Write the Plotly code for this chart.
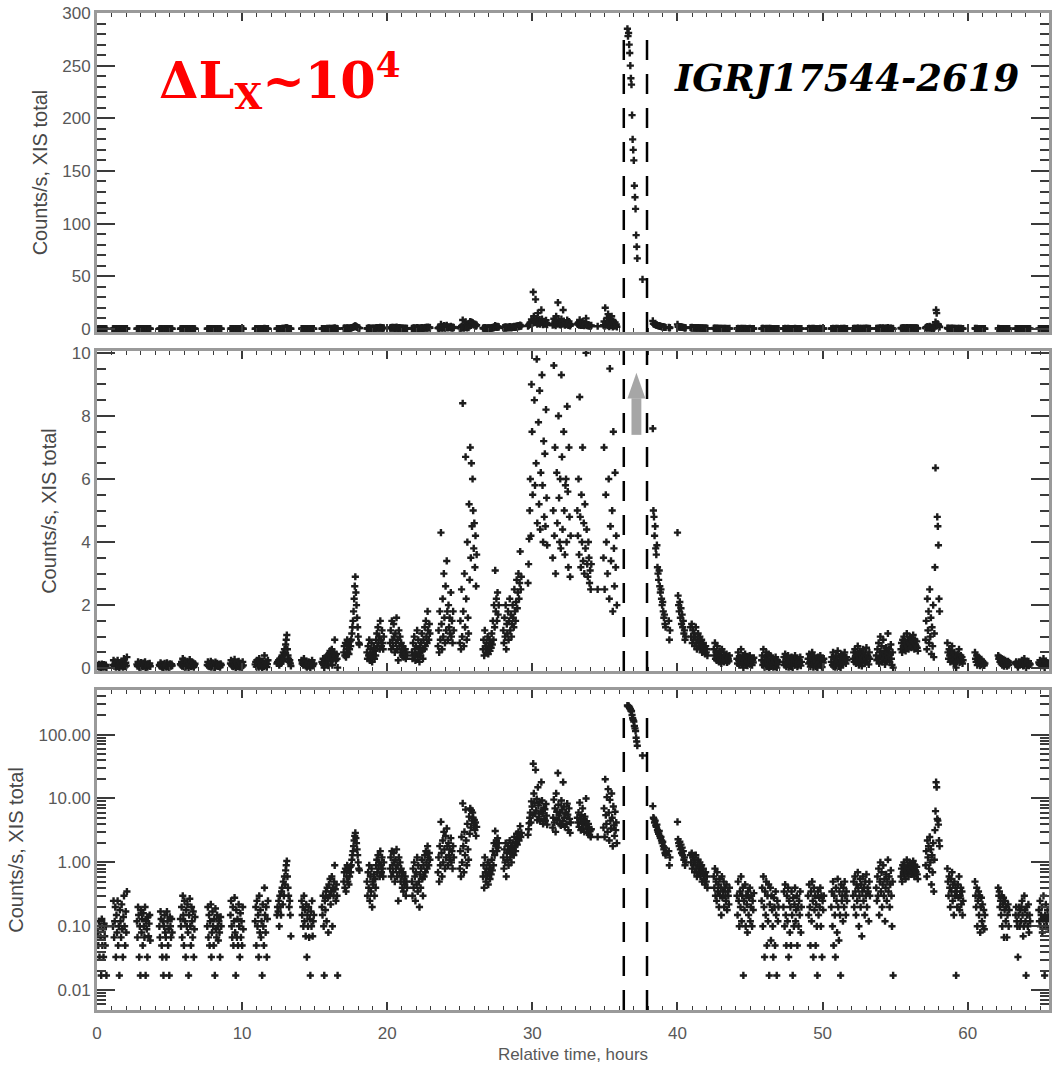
import plotly.graph_objects as go
from plotly.subplots import make_subplots

# ---------------- data ----------------
BIN_H = 0.04  # light-curve bin width, hours

SEG_START = [0.05, 1.1, 2.75, 4.3, 5.75, 7.6, 9.2, 10.9, 12.4, 14.1,
             15.5, 17.0, 18.6, 20.2, 21.7, 23.5, 25.0, 26.6, 28.0, 29.7,
             31.4, 33.1, 34.5, 36.55, 38.3, 39.4, 40.9, 42.5, 44.1, 45.8,
             47.3, 49.0, 50.6, 52.1, 53.7, 55.4, 57.1, 58.6, 60.5, 62.1,
             63.3, 64.9]

SEG_RATES = [
    [0.08, 0.05, 0.12, 0.033, 0.1, 0.067, 0.017, 0.13, 0.05, 0.09, 0.033, 0.11, 0.07, 0.05, 0.1, 0.017],
    [0.1, 0.25, 0.067, 0.12, 0.2, 0.033, 0.15, 0.08, 0.25, 0.05, 0.1, 0.017, 0.18, 0.12, 0.067, 0.22, 0.09, 0.033, 0.14, 0.3, 0.1, 0.05, 0.17, 0.08, 0.35],
    [0.12, 0.067, 0.2, 0.15, 0.033, 0.1, 0.017, 0.18, 0.08, 0.13, 0.05, 0.16, 0.1, 0.067, 0.2, 0.017, 0.12, 0.09, 0.033, 0.14, 0.07, 0.11, 0.15, 0.06],
    [0.1, 0.067, 0.17, 0.13, 0.05, 0.033, 0.12, 0.017, 0.1, 0.15, 0.08, 0.067, 0.033, 0.17, 0.12, 0.05, 0.09, 0.017, 0.14, 0.1, 0.067, 0.13, 0.08],
    [0.13, 0.1, 0.2, 0.067, 0.3, 0.15, 0.05, 0.25, 0.12, 0.033, 0.18, 0.1, 0.22, 0.08, 0.017, 0.15, 0.27, 0.1, 0.05, 0.2, 0.12, 0.067, 0.17, 0.033, 0.09, 0.14],
    [0.1, 0.2, 0.067, 0.15, 0.05, 0.12, 0.22, 0.033, 0.08, 0.17, 0.1, 0.05, 0.13, 0.017, 0.19, 0.09, 0.067, 0.15, 0.1, 0.06, 0.12, 0.08, 0.033, 0.14, 0.1],
    [0.15, 0.25, 0.1, 0.067, 0.2, 0.05, 0.12, 0.28, 0.08, 0.017, 0.18, 0.067, 0.13, 0.05, 0.22, 0.1, 0.033, 0.16, 0.067, 0.12, 0.05, 0.2, 0.09],
    [0.12, 0.2, 0.05, 0.25, 0.1, 0.15, 0.033, 0.3, 0.08, 0.18, 0.067, 0.12, 0.017, 0.22, 0.1, 0.05, 0.4, 0.15, 0.08, 0.2, 0.033, 0.13, 0.25],
    [0.15, 0.2, 0.17, 0.25, 0.1, 0.3, 0.2, 0.15, 0.35, 0.4, 0.22, 0.5, 0.3, 0.6, 0.45, 0.75, 0.9, 1.05, 0.6, 0.4, 0.3, 0.2, 0.25, 0.15, 0.07],
    [0.25, 0.15, 0.2, 0.1, 0.3, 0.12, 0.18, 0.07, 0.22, 0.033, 0.15, 0.1, 0.2, 0.067, 0.13, 0.017, 0.17, 0.1, 0.25, 0.07, 0.12, 0.15],
    [0.2, 0.15, 0.3, 0.1, 0.017, 0.25, 0.18, 0.35, 0.12, 0.4, 0.28, 0.08, 0.45, 0.3, 0.55, 0.22, 0.35, 0.6, 0.1, 0.4, 0.3, 0.5, 0.9, 0.38, 0.25, 0.45, 0.3, 0.017],
    [0.5, 0.7, 0.4, 0.8, 0.35, 0.6, 0.9, 0.5, 0.75, 0.45, 0.6, 0.85, 0.7, 0.9, 1.1, 1.3, 1.5, 1.8, 2.2, 2.6, 2.9, 2.4, 2.0, 1.6, 1.3, 1.0, 0.8, 0.75],
    [0.5, 0.3, 0.7, 0.4, 0.9, 0.25, 0.6, 0.35, 0.8, 0.2, 0.5, 0.45, 0.65, 0.3, 0.55, 0.4, 0.9, 1.1, 0.7, 1.3, 0.8, 1.0, 0.6, 1.5, 0.9, 0.7, 1.2, 0.8, 0.6, 1.0],
    [0.8, 1.2, 0.6, 1.5, 0.9, 0.7, 1.4, 1.0, 0.5, 1.1, 0.8, 1.6, 0.6, 0.9, 0.25, 1.2, 0.7, 1.0, 0.5, 0.8, 0.6, 0.4, 0.7, 0.35, 0.5, 0.45, 0.6, 0.3, 0.5, 0.4],
    [0.5, 0.3, 0.8, 0.4, 1.0, 0.6, 0.25, 0.7, 0.45, 1.2, 0.35, 0.9, 0.5, 0.2, 0.65, 0.4, 0.8, 1.1, 0.55, 0.3, 0.9, 0.6, 1.3, 0.7, 1.5, 1.0, 0.8, 1.8, 1.2, 0.9, 1.4, 1.1],
    [0.7, 1.2, 0.5, 1.8, 0.9, 4.3, 1.4, 0.6, 2.2, 1.0, 3.0, 1.6, 0.8, 2.6, 1.2, 3.4, 1.8, 0.9, 2.0, 1.3, 1.6, 1.1, 2.4, 1.0, 1.5, 0.8, 1.8, 1.2],
    [0.8, 1.5, 0.6, 2.5, 1.0, 8.4, 1.8, 0.7, 3.0, 1.3, 6.7, 2.2, 0.9, 4.0, 1.6, 1.1, 5.2, 2.8, 7.0, 3.5, 6.5, 4.5, 6.0, 5.0, 3.8, 4.6, 3.2, 4.2, 2.6, 3.6],
    [0.6, 0.9, 0.4, 1.2, 0.7, 0.5, 0.8, 0.6, 1.0, 0.45, 0.7, 0.9, 0.55, 0.8, 0.65, 1.1, 0.75, 1.5, 0.9, 2.0, 1.3, 3.1, 1.8, 2.2, 1.5, 2.4, 1.7, 2.0],
    [1.2, 0.8, 1.6, 1.0, 2.0, 0.6, 1.4, 1.1, 1.8, 0.9, 1.5, 2.2, 1.2, 1.7, 1.0, 1.4, 2.0, 1.6, 1.3, 2.5, 1.8, 1.5, 2.1, 2.8, 1.9, 2.4, 3.0, 2.2, 2.7, 3.7, 2.5, 2.9],
    [2.7, 3.3, 4.1, 5.0, 6.0, 4.2, 9.0, 7.5, 5.5, 35, 12, 8.5, 5.8, 28, 6.5, 9.8, 4.6, 15, 7.8, 5.2, 8.8, 4.4, 6.2, 18, 9.3, 5.8, 4.0, 7.2, 4.8, 6.8, 4.5, 8.2, 5.4, 3.9],
    [3.5, 5.0, 9.6, 4.2, 7.0, 3.0, 12, 6.2, 4.6, 25, 8.0, 5.4, 4.0, 6.0, 3.8, 9.3, 6.7, 4.4, 18, 7.5, 5.0, 3.6, 5.8, 6.0, 4.0, 8.3, 5.6, 3.2, 7.0, 4.8, 2.9, 4.2],
    [5.0, 4.2, 6.0, 3.6, 8.6, 4.8, 3.2, 5.5, 4.0, 7.0, 3.4, 4.6, 3.0, 5.2, 3.8, 10.0, 4.4, 3.3, 2.9, 4.0, 3.5, 2.7, 3.1, 2.5, 3.3],
    [2.5, None, None, None, None, None, None, None, None, None, 3.5, 7.0, 2.5, 20, 5.5, 4.0, 10.5, 3.0, 14, 6.0, 2.2, 9.5, 4.5, 3.4, 12, 5.0, 1.8, 7.5, 3.8, 2.6, 6.2, 3.2, 4.2, 2.0],
    [285, 278, 281, 270, 262, 250, 238, 232, 203, 180, 170, 160, 136, 125, 114, 89, 78, 67, None, None, None, None, None, None, None, None, 47],
    [7.6, 5.0, 4.8, 4.2, 4.5, 3.8, 3.6, 3.9, 3.2, 3.0, 2.8, 3.1, 2.6, 2.4, 2.5, 2.2, 2.0, 2.1, 1.8, 1.6, 1.7, 1.4, 1.3],
    [1.5, 0.9, 1.2, None, None, None, None, None, None, None, None, None, None, None, None, 4.3, 2.3, 2.0, 1.8, 2.1, 1.6, 1.9, 1.4, 1.7, 1.3, 1.5, 1.1, 1.2, 0.9, 1.0],
    [1.3, 1.0, 1.4, 0.8, 1.2, 0.9, 1.1, 0.7, 1.0, 1.3, 0.8, 0.6, 0.9, 1.1, 0.7, 0.85, 1.0, 0.6, 0.75, 0.9, 0.5, 0.7, 0.8, 0.55, 0.65, 0.45, 0.7, 0.5, 0.6, 0.4],
    [0.6, 0.4, 0.8, 0.3, 0.5, 0.25, 0.7, 0.35, 0.45, 0.2, 0.55, 0.3, 0.4, 0.15, 0.6, 0.28, 0.35, 0.5, 0.2, 0.4, 0.3, 0.25, 0.45, 0.18, 0.35, 0.3, 0.22, 0.4],
    [0.3, 0.15, 0.5, 0.25, 0.1, 0.35, 0.2, 0.6, 0.12, 0.3, 0.4, 0.017, 0.25, 0.18, 0.45, 0.1, 0.3, 0.22, 0.08, 0.35, 0.15, 0.28, 0.4, 0.12, 0.2, 0.3, 0.1, 0.25, 0.18, 0.33],
    [0.25, 0.4, 0.1, 0.6, 0.2, 0.033, 0.35, 0.15, 0.5, 0.05, 0.3, 0.12, 0.45, 0.017, 0.22, 0.4, 0.06, 0.3, 0.18, 0.1, 0.033, 0.28, 0.2, 0.05, 0.35, 0.15, 0.017, 0.25, 0.12, 0.2],
    [0.2, 0.35, 0.1, 0.45, 0.15, 0.05, 0.3, 0.12, 0.4, 0.033, 0.25, 0.08, 0.2, 0.05, 0.35, 0.15, 0.017, 0.28, 0.1, 0.22, 0.4, 0.12, 0.18, 0.3, 0.05, 0.2, 0.1, 0.25, 0.15, 0.35, 0.08, 0.2],
    [0.3, 0.15, 0.45, 0.2, 0.05, 0.35, 0.12, 0.5, 0.25, 0.033, 0.4, 0.18, 0.3, 0.05, 0.22, 0.1, 0.017, 0.35, 0.15, 0.28, 0.2, 0.4, 0.1, 0.3, 0.033, 0.25, 0.18, 0.3],
    [0.2, 0.35, 0.1, 0.5, 0.05, 0.3, 0.15, 0.033, 0.4, 0.25, 0.08, 0.55, 0.2, 0.06, 0.35, 0.15, 0.017, 0.45, 0.25, 0.3, 0.12, 0.4, 0.2, 0.5, 0.3, 0.15, 0.35, 0.25],
    [0.3, 0.5, 0.2, 0.6, 0.35, 0.15, 0.45, 0.25, 0.7, 0.4, 0.1, 0.3, 0.55, 0.2, 0.45, 0.07, 0.35, 0.6, 0.25, 0.4, 0.15, 0.5, 0.3, 0.65, 0.2, 0.4, 0.35, 0.12, 0.5, 0.3],
    [0.4, 0.25, 0.6, 0.3, 0.8, 0.15, 0.5, 1.0, 0.35, 0.7, 0.2, 0.45, 0.9, 0.3, 0.55, 0.12, 0.4, 0.65, 0.25, 0.5, 1.1, 0.35, 0.6, 0.2, 0.45, 0.75, 0.3, 0.1, 0.5, 0.017],
    [0.6, 0.8, 0.5, 0.9, 0.7, 1.0, 0.65, 0.85, 0.55, 0.75, 1.1, 0.7, 0.9, 0.6, 0.8, 1.0, 0.75, 0.95, 0.65, 0.85, 0.7, 1.05, 0.8, 0.6, 0.9, 0.75, 0.7, 0.85, 0.65, 0.55],
    [0.9, 1.5, 0.6, 2.2, 1.2, 1.8, 0.8, 2.5, 1.0, 1.6, 0.45, 1.3, 0.7, 2.0, 0.35, 1.1, 3.2, 6.35, 18, 15, 4.8, 4.5, 3.9, 2.2, 1.8],
    [0.8, 0.5, 0.3, 0.6, 0.4, 0.2, 0.55, 0.35, 0.7, 0.25, 0.45, 0.15, 0.5, 0.3, 0.4, 0.017, 0.35, 0.2, 0.45, 0.28, 0.6, 0.18, 0.3, 0.4, 0.22, 0.35, 0.15, 0.25],
    [0.5, 0.3, 0.2, 0.4, 0.1, 0.25, 0.35, 0.15, 0.3, 0.08, 0.2, 0.28, 0.12, 0.22, 0.1, 0.18, 0.09, 0.15],
    [0.4, 0.3, 0.35, 0.2, 0.25, 0.15, 0.3, 0.1, 0.22, 0.28, 0.067, 0.18, 0.25, 0.12, 0.2, 0.067, 0.15, 0.22, 0.1, 0.18],
    [0.15, 0.2, 0.12, 0.1, 0.033, 0.15, 0.2, 0.1, 0.18, 0.12, 0.2, 0.25, 0.15, 0.07, 0.1, 0.3, 0.18, 0.12, 0.017, 0.2, 0.15, 0.1, 0.22, 0.08, 0.15, 0.12],
    [0.18, 0.12, 0.25, 0.1, 0.15, 0.2, 0.08, 0.13, 0.3, 0.1, 0.017, 0.15, 0.22, 0.12, 0.1, 0.18, 0.14, 0.09],
]

FLARE_WINDOW = [36.3, 37.9]          # dashed vertical lines, hours
X_TICKS = [0, 10, 20, 30, 40, 50, 60]
Y1_TICKS = [0, 50, 100, 150, 200, 250, 300]
Y2_TICKS = [0, 2, 4, 6, 8, 10]
Y3_TICKS = [0.01, 0.1, 1, 10, 100]
Y3_TICKTEXT = ["0.01", "0.10", "1.00", "10.00", "100.00"]
Y_TITLE = "Counts/s, XIS total"
X_TITLE = "Relative time, hours"

# ---------------- build series ----------------
times, rates = [], []
for start, vals in zip(SEG_START, SEG_RATES):
    for i, v in enumerate(vals):
        times.append(round(start + i * BIN_H, 4))
        rates.append(v)

fig = make_subplots(rows=3, cols=1, shared_xaxes=False)
for r in (1, 2, 3):
    fig.add_trace(go.Scatter(
        x=times, y=rates, mode="markers",
        marker=dict(symbol="cross", size=6, color="#1c1c1c"),
        hoverinfo="skip", showlegend=False), row=r, col=1)

FRAME = "#9a9a9a"
TICKC = "#3a3a3a"
LABF = dict(family="Liberation Sans, Arial, sans-serif", size=17, color="#585858")
TITF = dict(family="Liberation Sans, Arial, sans-serif", size=20, color="#484848")

def xax(show_labels):
    d = dict(range=[0, 65.6], tickvals=X_TICKS, ticks="inside", ticklen=8, tickwidth=1.5,
             tickcolor=TICKC, showline=True, linecolor=FRAME, linewidth=3, mirror="ticks",
             showgrid=False, zeroline=False, showticklabels=show_labels, tickfont=LABF,
             minor=dict(dtick=1, tick0=0, ticks="inside", ticklen=4, tickwidth=1.2, tickcolor=TICKC))
    return d

def yax(**kw):
    d = dict(ticks="inside", ticklen=18, tickwidth=2, tickcolor=TICKC, showline=True,
             linecolor=FRAME, linewidth=3, mirror="ticks", showgrid=False, zeroline=False,
             tickfont=LABF, title=dict(text=Y_TITLE, font=TITF, standoff=10))
    d.update(kw)
    return d

fig.update_layout(
    width=1057, height=1074,
    margin=dict(l=97, r=8, t=4, b=64),
    paper_bgcolor="white", plot_bgcolor="white",
    xaxis=xax(False), xaxis2=xax(False),
    xaxis3=dict(xax(True), title=dict(text=X_TITLE, font=LABF, standoff=6), ticklabelstandoff=6),
    yaxis=yax(domain=[0.680, 1.0], range=[-3, 300], tickvals=Y1_TICKS,
              minor=dict(dtick=10, tick0=0, ticks="inside", ticklen=9, tickwidth=1.5, tickcolor=TICKC)),
    yaxis2=yax(domain=[0.340, 0.661], range=[-0.09, 10.06], tickvals=Y2_TICKS,
               minor=dict(dtick=0.5, tick0=0, ticks="inside", ticklen=9, tickwidth=1.5, tickcolor=TICKC)),
    yaxis3=yax(domain=[0.0, 0.3211], type="log", range=[-2.31, 2.70], tickvals=Y3_TICKS,
               ticktext=Y3_TICKTEXT,
               minor=dict(dtick="D1", ticks="inside", ticklen=9, tickwidth=1.5, tickcolor=TICKC)),
)

# dashed lines marking the flare window
for xr, yr, top in (("x", "y domain", 0.94), ("x2", "y2 domain", 1.0), ("x3", "y3 domain", 0.94)):
    for xv in FLARE_WINDOW:
        fig.add_shape(type="line", xref=xr, yref=yr, x0=xv, x1=xv, y0=0, y1=top,
                      line=dict(color="black", width=2.5, dash="20px,14px"))

# grey arrow in the middle panel (flare goes off-scale)
ARROW_X = 37.17
fig.add_shape(type="rect", xref="x2", yref="y2", x0=ARROW_X - 0.34, x1=ARROW_X + 0.34,
              y0=7.4, y1=8.56, fillcolor="#a6a6a6", line=dict(width=0))
fig.add_shape(type="path", xref="x2", yref="y2",
              path=f"M {ARROW_X - 0.62},8.55 L {ARROW_X + 0.62},8.55 L {ARROW_X},9.37 Z",
              fillcolor="#a6a6a6", line=dict(width=0))

fig.add_annotation(xref="paper", yref="paper", x=0.063, y=0.933, xanchor="left", yanchor="middle",
                   text="<b>ΔL<sub>X</sub>~10<sup>4</sup></b>", showarrow=False,
                   font=dict(family="DejaVu Serif", size=51, color="#ff0000"))
fig.add_annotation(xref="paper", yref="paper", x=0.604, y=0.9344, xanchor="left", yanchor="middle",
                   text="<b><i>IGRJ17544-2619</i></b>", showarrow=False,
                   font=dict(family="DejaVu Serif", size=37, color="#000000"))

fig.write_html("out.html")
